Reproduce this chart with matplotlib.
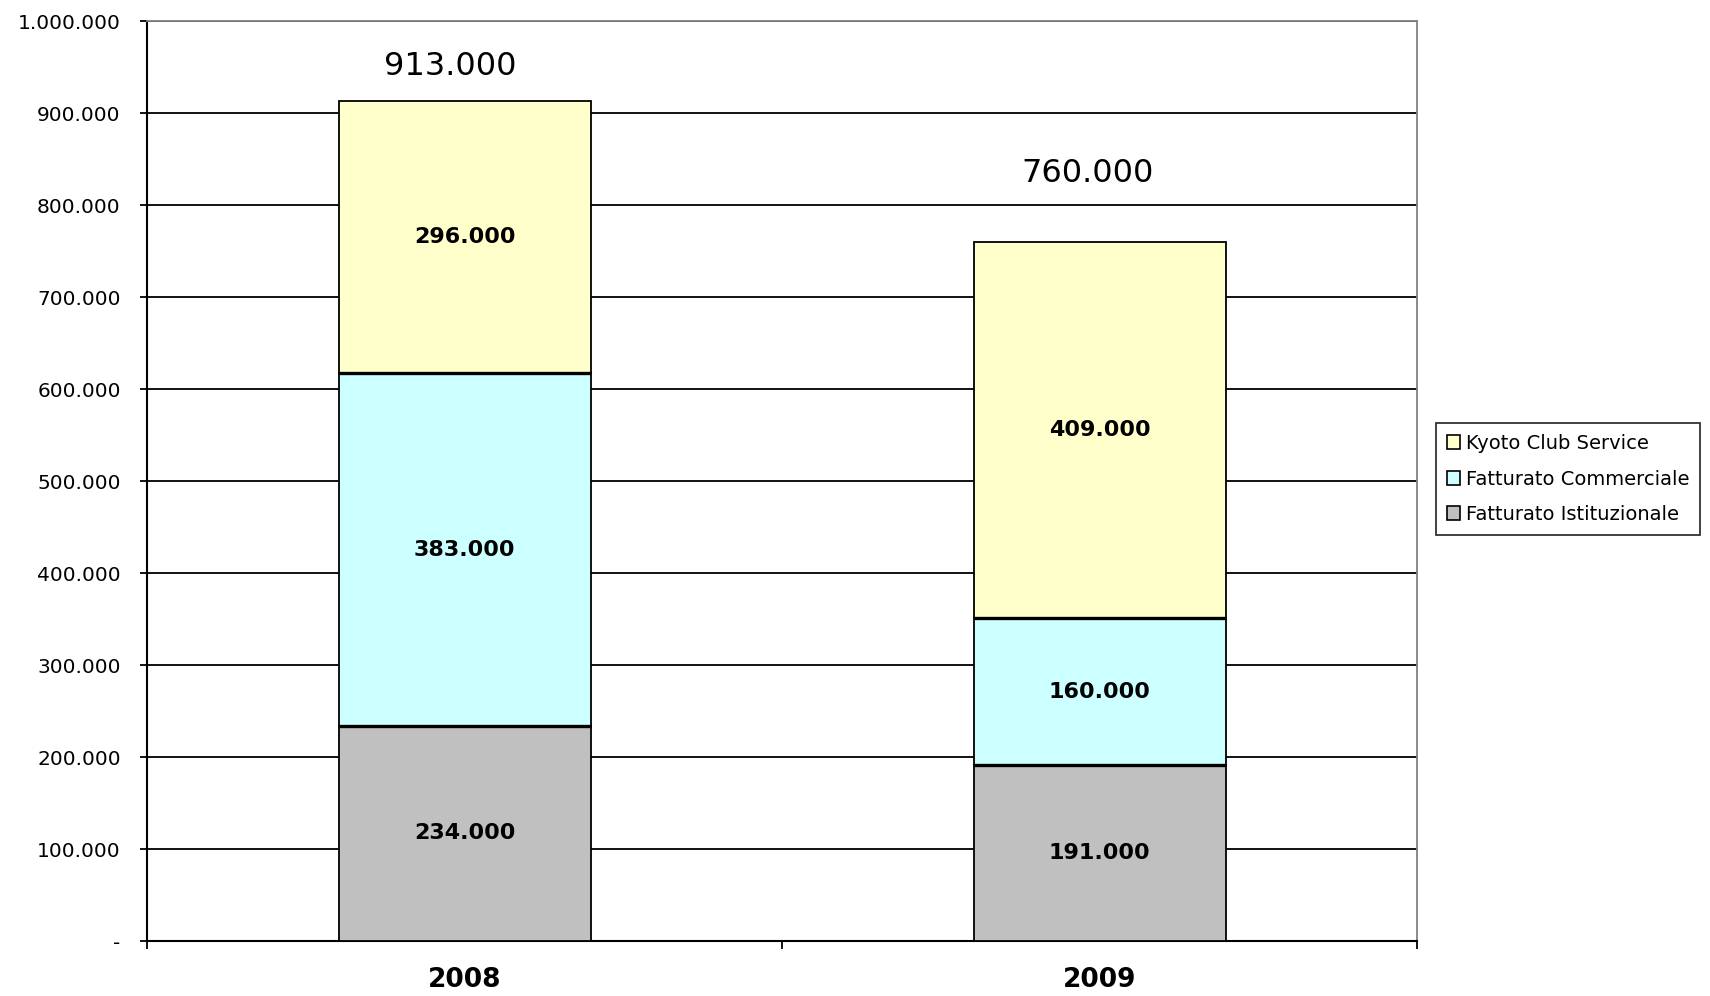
import matplotlib.pyplot as plt
from matplotlib.patches import Patch
from matplotlib.ticker import FuncFormatter

# === dati ===
anni = ["2008", "2009"]
istituzionale = [234000, 191000]
commerciale = [383000, 160000]
kyoto = [296000, 409000]
serie = ["Fatturato Istituzionale", "Fatturato Commerciale", "Kyoto Club Service"]
colori = ["#C0C0C0", "#CCFFFF", "#FFFFCC"]
# spostamento (punti) delle etichette dei totali, come nel grafico di Excel
offset_totali = [(-10, 25), (-9, 49)]

plt.rcParams["font.family"] = ["DejaVu Sans"]

fig = plt.figure(figsize=(17.1, 9.96), dpi=100)
ax = fig.add_axes([0.086, 0.0552, 0.7427, 0.9237])

x = list(range(len(anni)))
valori = [istituzionale, commerciale, kyoto]
bottom = [0, 0]
for nome, vals, col in zip(serie, valori, colori):
    ax.bar(x, vals, width=0.397, bottom=bottom, color=col,
           edgecolor="black", linewidth=1.3, zorder=3)
    for i, v in enumerate(vals):
        ax.text(x[i], bottom[i] + v / 2, f"{v:,}".replace(",", "."),
                ha="center", va="center", fontsize=16, fontweight="bold", zorder=4)
    bottom = [b + v for b, v in zip(bottom, vals)]

# linee di separazione più spesse tra i segmenti
sep = [istituzionale, [a + b for a, b in zip(istituzionale, commerciale)]]
for livello in sep:
    for i, y in enumerate(livello):
        ax.plot([x[i] - 0.1985, x[i] + 0.1985], [y, y], color="black",
                linewidth=2.4, zorder=4, solid_capstyle="butt")

totali = bottom
for i, t in enumerate(totali):
    ax.annotate(f"{t:,}".replace(",", "."), xy=(x[i], t), xytext=offset_totali[i],
                textcoords="offset points", ha="center", va="center", fontsize=23)

ax.set_xlim(-0.5, len(anni) - 0.5)
ax.set_ylim(0, 1000000)
ax.set_yticks(range(0, 1000001, 100000))
ax.yaxis.set_major_formatter(FuncFormatter(
    lambda v, p: "-" if v == 0 else f"{int(v):,}".replace(",", ".")))
ax.tick_params(axis="y", direction="out", length=5, width=1.3, pad=14, labelsize=14.5)

ax.set_xticks([-0.5, 0.5, 1.5])
ax.set_xticklabels([])
ax.set_xticks(x, minor=True)
ax.set_xticklabels(anni, minor=True, fontsize=19, fontweight="bold")
ax.tick_params(axis="x", which="major", direction="out", length=6, width=1.3)
ax.tick_params(axis="x", which="minor", length=0, pad=19)

ax.grid(axis="y", color="black", linewidth=1.3)
ax.set_axisbelow(True)
for s in ["left", "bottom"]:
    ax.spines[s].set_color("black")
    ax.spines[s].set_linewidth(1.5)
for s in ["top", "right"]:
    ax.spines[s].set_color("#808080")
    ax.spines[s].set_linewidth(1.3)

handles = [Patch(facecolor=c, edgecolor="black", linewidth=1.2, label=n)
           for n, c in zip(serie, colori)][::-1]
leg = fig.legend(handles=handles, loc="center left", bbox_to_anchor=(0.8398, 0.519),
                 bbox_transform=fig.transFigure, fontsize=14, frameon=True,
                 fancybox=False, edgecolor="black", borderaxespad=0,
                 handlelength=0.7, handleheight=0.7, handletextpad=0.3,
                 labelspacing=0.85, borderpad=0.55)
leg.get_frame().set_linewidth(1.3)

fig.savefig("out.png", dpi=100)
